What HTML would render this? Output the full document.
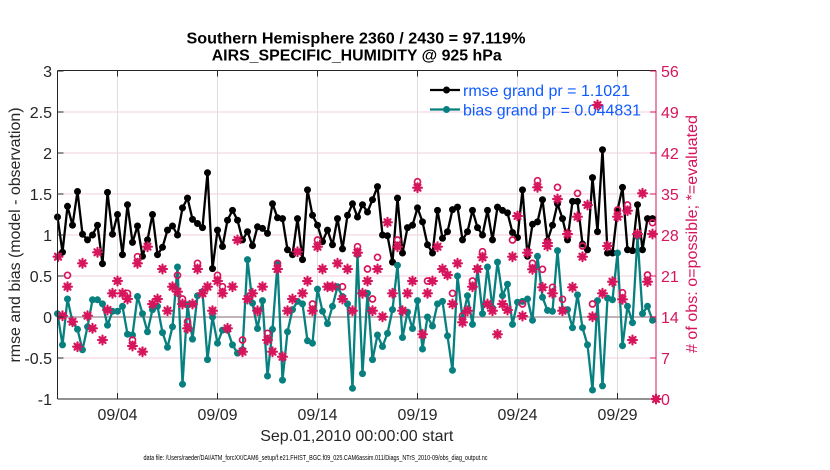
<!DOCTYPE html>
<html><head><meta charset="utf-8"><style>
html,body{margin:0;padding:0;background:#fff;}
svg{display:block;}
text{font-family:"Liberation Sans",Arial,Helvetica,sans-serif;}
</style></head><body>
<svg width="830" height="470" viewBox="0 0 830 470" xmlns="http://www.w3.org/2000/svg">
<defs>
<marker id="mk" markerWidth="10" markerHeight="10" refX="5" refY="5" markerUnits="userSpaceOnUse"><circle cx="5" cy="5" r="3.5" fill="#000"/></marker>
<marker id="mt" markerWidth="10" markerHeight="10" refX="5" refY="5" markerUnits="userSpaceOnUse"><circle cx="5" cy="5" r="3.5" fill="#08807f"/></marker>
<marker id="ms" markerWidth="12" markerHeight="12" refX="6" refY="6" markerUnits="userSpaceOnUse"><g stroke="#d6155c" fill="#d6155c"><path d="M6,1.6V10.4M1.6,6H10.4M3,3L9,9M3,9L9,3" fill="none" stroke-width="2.2" stroke-linecap="round"/><path d="M6,2L10,6L6,10L2,6Z" stroke="none"/></g></marker>
<marker id="mo" markerWidth="10" markerHeight="10" refX="5" refY="5" markerUnits="userSpaceOnUse"><circle cx="5" cy="5" r="3" fill="none" stroke="#d6155c" stroke-width="1.7"/></marker>
</defs>

<!-- grid -->
<g stroke="#f2cfdc" stroke-width="1">
<line x1="57.5" y1="112" x2="656" y2="112"/><line x1="57.5" y1="153" x2="656" y2="153"/><line x1="57.5" y1="194" x2="656" y2="194"/><line x1="57.5" y1="235" x2="656" y2="235"/><line x1="57.5" y1="276" x2="656" y2="276"/><line x1="57.5" y1="358" x2="656" y2="358"/>
</g>
<g stroke="#dedede" stroke-width="1">
<line x1="117.5" y1="71" x2="117.5" y2="399"/><line x1="217.5" y1="71" x2="217.5" y2="399"/><line x1="317.5" y1="71" x2="317.5" y2="399"/><line x1="417.5" y1="71" x2="417.5" y2="399"/><line x1="517.5" y1="71" x2="517.5" y2="399"/><line x1="617.5" y1="71" x2="617.5" y2="399"/>
</g>
<line x1="57.5" y1="317" x2="656" y2="317" stroke="#c2b3b8" stroke-width="2"/>

<!-- legend -->
<line x1="430" y1="90" x2="460" y2="90" stroke="#000" stroke-width="2.3"/><circle cx="446.5" cy="90" r="3.5" fill="#000"/>
<line x1="430" y1="109.5" x2="460" y2="109.5" stroke="#08807f" stroke-width="2.3"/><circle cx="446.5" cy="109.5" r="3.5" fill="#08807f"/>
<text x="463" y="96" font-size="16" fill="#0f5bff" textLength="167" lengthAdjust="spacingAndGlyphs">rmse grand pr = 1.1021</text>
<text x="463" y="115.5" font-size="16" fill="#0f5bff" textLength="178" lengthAdjust="spacingAndGlyphs">bias grand pr = 0.044831</text>

<!-- rmse -->
<polyline fill="none" stroke="#000" stroke-width="2.3" stroke-linejoin="round" marker-start="url(#mk)" marker-mid="url(#mk)" marker-end="url(#mk)" points="57.5,217 62.5,252.2 67.5,206.3 72.5,225.2 77.5,191.5 82.5,234.2 87.5,239.9 92.5,235 97.5,225.2 102.5,263.7 107.5,192.4 112.5,234.2 117.5,214.5 122.5,254.7 127.5,204.7 132.5,242.4 137.5,226 142.5,256.3 147.5,239.9 152.5,214.5 157.5,254.7 162.5,247.3 167.5,230.1 172.5,226 177.5,235 182.5,207.9 187.5,198.1 192.5,219.4 197.5,223.5 202.5,227.6 207.5,172.7 212.5,268.6 217.5,230.1 222.5,246.5 227.5,220.2 232.5,210.4 237.5,220.2 242.5,239.9 247.5,231.7 252.5,245.7 257.5,226.8 262.5,228.4 267.5,233.4 272.5,203.8 277.5,217.8 282.5,218.6 287.5,249.8 292.5,254.7 297.5,218.6 302.5,259.6 307.5,189.9 312.5,215.3 317.5,225.2 322.5,241.6 327.5,230.1 332.5,244.8 337.5,218.6 342.5,248.9 347.5,215.3 352.5,203.8 357.5,217 362.5,204.7 367.5,212 372.5,199.7 377.5,186.6 382.5,235 387.5,235.8 392.5,262.1 397.5,198.1 402.5,253 407.5,227.6 412.5,225.2 417.5,207.9 422.5,221.9 427.5,244.8 432.5,253 437.5,210.4 442.5,238.3 447.5,231.7 452.5,209.6 457.5,207.1 462.5,239.9 467.5,231.7 472.5,210.4 477.5,227.6 482.5,235 487.5,210.4 492.5,239.9 497.5,207.1 502.5,210.4 507.5,212.9 512.5,232.5 517.5,237.5 522.5,189.9 527.5,256.3 532.5,224.3 537.5,221.9 542.5,199.7 547.5,240.7 552.5,225.2 557.5,203.8 562.5,218.6 567.5,239.9 572.5,201.4 577.5,201.4 582.5,244 587.5,249.8 592.5,177.6 597.5,231.7 602.5,149.7 607.5,253 612.5,253 617.5,210.4 622.5,187.4 627.5,249.8 632.5,250.6 637.5,204.7 642.5,249.8 647.5,218.6 652.5,218.6"/>

<!-- bias -->
<polyline fill="none" stroke="#08807f" stroke-width="2.3" stroke-linejoin="round" marker-start="url(#mt)" marker-mid="url(#mt)" marker-end="url(#mt)" points="57.5,313.7 62.5,344.9 67.5,299 72.5,321.9 77.5,329.3 82.5,349.8 87.5,326.8 92.5,299.8 97.5,299.8 102.5,303.9 107.5,325.2 112.5,311.3 117.5,311.3 122.5,306.3 127.5,334.2 132.5,335 137.5,296.5 142.5,313.7 147.5,331.8 152.5,309.6 157.5,306.3 162.5,332.6 167.5,347.3 172.5,326.8 177.5,267 182.5,384.2 187.5,304.7 192.5,339.1 197.5,295.7 202.5,291.6 207.5,359.6 212.5,317 217.5,343.2 222.5,330.1 227.5,330.1 232.5,344.9 237.5,353.1 242.5,349.8 247.5,259.6 252.5,303.1 257.5,328.5 262.5,300.6 267.5,376 272.5,329.3 277.5,263.7 282.5,380.1 287.5,331.8 292.5,309.6 297.5,301.4 302.5,303.9 307.5,340.8 312.5,343.2 317.5,289.1 322.5,311.3 327.5,323.6 332.5,306.3 337.5,286.7 342.5,296.5 347.5,303.9 352.5,388.3 357.5,254.7 362.5,373.6 367.5,293.2 372.5,359.6 377.5,335 382.5,346.5 387.5,333.4 392.5,309.6 397.5,265.3 402.5,337.5 407.5,312.1 412.5,328.5 417.5,300.6 422.5,349 427.5,317 432.5,326 437.5,303.9 442.5,301.4 447.5,335.9 452.5,370.3 457.5,276 462.5,318.6 467.5,295.7 472.5,324.4 477.5,268.6 482.5,313.7 487.5,267 492.5,308 497.5,262.1 502.5,295.7 507.5,284.2 512.5,324.4 517.5,302.2 522.5,301.4 527.5,299 532.5,320.3 537.5,256.3 542.5,297.3 547.5,310.4 552.5,311.3 557.5,250.6 562.5,309.6 567.5,309.6 572.5,327.7 577.5,294.9 582.5,327.7 587.5,344.9 592.5,390 597.5,300.6 602.5,385.9 607.5,298.1 612.5,299.8 617.5,253 622.5,345.7 627.5,306.3 632.5,322.7 637.5,236.6 642.5,313.7 647.5,306.3 652.5,320.3"/>

<!-- evaluated stars -->
<polyline fill="none" stroke="none" marker-start="url(#ms)" marker-mid="url(#ms)" marker-end="url(#ms)" points="58,256.7 62.5,315.7 67.5,286.7 72.5,321.7 77.5,346.7 82.5,263.3 87.5,315.7 92.5,328.3 97.5,252.3 102.5,340 107.5,310 112.5,293.3 117.5,281 122.5,293.3 127.5,299 132.5,346 137.5,263.3 142.5,351.7 147.5,246.7 152.5,304 157.5,299 162.5,269 167.5,310.7 172.5,286.7 177.5,291.7 182.5,304 187.5,328.3 192.5,304 197.5,269 202.5,293.3 207.5,286.7 212.5,310.7 217.5,281 222.5,293.3 227.5,328.3 232.5,286.7 237.5,240 242.5,351.7 247.5,299 252.5,293.3 257.5,310.7 262.5,286.7 267.5,340 272.5,351.7 277.5,269 282.5,356.7 287.5,310.7 292.5,299 297.5,251.7 302.5,293.3 307.5,281 312.5,310.7 317.5,246.7 322.5,269 327.5,286.7 332.5,286.7 337.5,263.3 342.5,299 347.5,269 352.5,310.7 357.5,252.7 362.5,293.3 367.5,281 372.5,310.7 377.5,269 382.5,316.7 387.5,222.3 392.5,293.3 397.5,246.7 402.5,310.7 407.5,293.3 412.5,281 417.5,187.7 422.5,334.3 427.5,293.3 432.5,281 437.5,246.7 442.5,269 447.5,275 452.5,304 457.5,263.3 462.5,322.3 467.5,310.7 472.5,286.7 477.5,269 482.5,257.3 487.5,304 492.5,310.7 497.5,334.3 502.5,304 507.5,310 512.5,256.7 517.5,216 522.5,316 527.5,252.7 532.5,269.3 537.5,187.3 542.5,287.3 547.5,243 547.5,246 552.5,293.3 557.5,199 562.5,310.7 567.5,234 572.5,287.3 577.5,216.7 582.5,256.7 587.5,205 592.5,316.7 597.5,105 602.5,293.3 607.5,246 612.5,281.7 617.5,216.7 622.5,299.3 627.5,210.7 632.5,340 637.5,234 642.5,193.3 647.5,281.7 652.5,234 656,399"/>

<!-- possible circles -->
<polyline fill="none" stroke="none" marker-start="url(#mo)" marker-mid="url(#mo)" marker-end="url(#mo)" points="67.5,275.3 127.5,293.3 132.5,340 137.5,256.7 177.5,275.3 182.5,299 187.5,321.7 197.5,263.3 217.5,275.3 222.5,286.7 242.5,340 267.5,333.3 277.5,263.3 312.5,304 317.5,240 342.5,286.7 357.5,246.7 367.5,269 372.5,299 377.5,257.3 397.5,240 417.5,181.7 427.5,281 452.5,293.3 462.5,315.7 472.5,281 482.5,251.7 512.5,240 522.5,304 532.5,263.3 537.5,180.7 542.5,269.3 552.5,287.3 557.5,187.3 562.5,299.3 577.5,193.3 582.5,246 592.5,304 617.5,210 622.5,292.7 627.5,205 647.5,275 652.5,222.7"/>

<!-- axes -->
<g stroke="#262626" stroke-width="1">
<line x1="57.5" y1="70.5" x2="656" y2="70.5"/>
<line x1="57.5" y1="399" x2="656" y2="399"/>
<line x1="57.5" y1="70.5" x2="57.5" y2="399"/>
<path d="M117.5,399v-6M217.5,399v-6M317.5,399v-6M417.5,399v-6M517.5,399v-6M617.5,399v-6M117.5,70.5v6M217.5,70.5v6M317.5,70.5v6M417.5,70.5v6M517.5,70.5v6M617.5,70.5v6"/>
<path d="M57.5,71h6M57.5,112h6M57.5,153h6M57.5,194h6M57.5,235h6M57.5,276h6M57.5,317h6M57.5,358h6M57.5,399h6"/>
</g>
<g stroke="#d6155c" stroke-width="1">
<line x1="656" y1="70.5" x2="656" y2="399"/>
<path d="M656,71h-6M656,112h-6M656,153h-6M656,194h-6M656,235h-6M656,276h-6M656,317h-6M656,358h-6M656,399h-6"/>
</g>

<!-- left tick labels -->
<g font-size="16" fill="#262626" text-anchor="end">
<text x="52" y="77">3</text><text x="52" y="118">2.5</text><text x="52" y="159">2</text><text x="52" y="200">1.5</text><text x="52" y="241">1</text><text x="52" y="282">0.5</text><text x="52" y="323">0</text><text x="52" y="364">-0.5</text><text x="52" y="405">-1</text>
</g>
<!-- right tick labels -->
<g font-size="16" fill="#d6155c">
<text x="661" y="77">56</text><text x="661" y="118">49</text><text x="661" y="159">42</text><text x="661" y="200">35</text><text x="661" y="241">28</text><text x="661" y="282">21</text><text x="661" y="323">14</text><text x="661" y="364">7</text><text x="661" y="405">0</text>
</g>
<!-- x tick labels -->
<g font-size="16" fill="#262626" text-anchor="middle">
<text x="117.5" y="420">09/04</text><text x="217.5" y="420">09/09</text><text x="317.5" y="420">09/14</text><text x="417.5" y="420">09/19</text><text x="517.5" y="420">09/24</text><text x="617.5" y="420">09/29</text>
</g>
<text x="356.75" y="441" font-size="16" fill="#262626" text-anchor="middle">Sep.01,2010 00:00:00 start</text>

<text transform="translate(20,235) rotate(-90)" font-size="16" fill="#262626" text-anchor="middle" textLength="255" lengthAdjust="spacingAndGlyphs">rmse and bias (model - observation)</text>
<text transform="translate(697,234) rotate(-90)" font-size="16" fill="#d6155c" text-anchor="middle" textLength="238" lengthAdjust="spacingAndGlyphs"># of obs: o=possible; *=evaluated</text>

<!-- title -->
<text x="356" y="43.5" font-size="16" font-weight="bold" fill="#000" text-anchor="middle" textLength="339" lengthAdjust="spacingAndGlyphs">Southern Hemisphere 2360 / 2430 = 97.119%</text>
<text x="356.7" y="60.5" font-size="16" font-weight="bold" fill="#000" text-anchor="middle" textLength="290" lengthAdjust="spacingAndGlyphs">AIRS_SPECIFIC_HUMIDITY @ 925 hPa</text>

<text x="143.5" y="460" font-size="7.5" fill="#000" textLength="344" lengthAdjust="spacingAndGlyphs">data file: /Users/raeder/DAI/ATM_forcXX/CAM6_setup/f.e21.FHIST_BGC.f09_025.CAM6assim.011/Diags_NTrS_2010-09/obs_diag_output.nc</text>
</svg>
</body></html>
